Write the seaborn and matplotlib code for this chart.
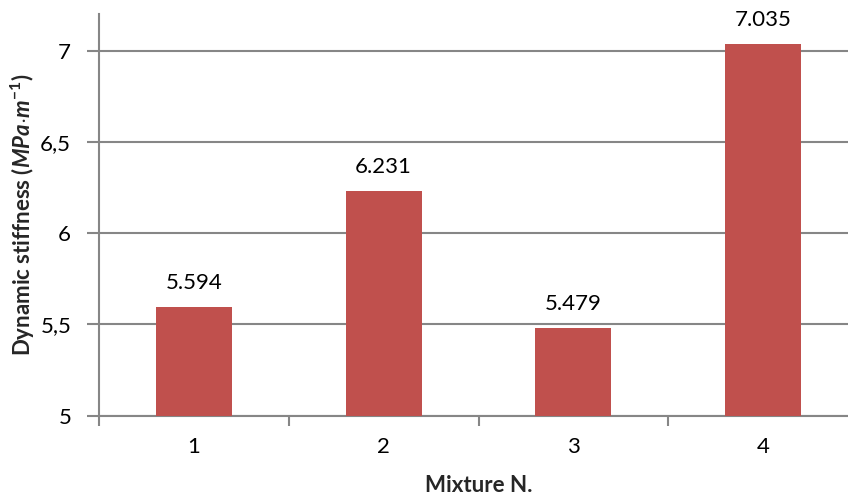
import matplotlib
matplotlib.use("Agg")
import matplotlib.pyplot as plt
import seaborn as sns
import pandas as pd

mixtures = ["1", "2", "3", "4"]
stiffness = [5.594, 6.231, 5.479, 7.035]
value_labels = ["5.594", "6.231", "5.479", "7.035"]
y_ticks = [5, 5.5, 6, 6.5, 7]
y_tick_labels = ["5", "5,5", "6", "6,5", "7"]

sns.set_theme(style="white")
plt.rcParams["font.family"] = ["Lato", "DejaVu Sans"]
plt.rcParams["mathtext.fontset"] = "custom"
plt.rcParams["mathtext.it"] = "Lato:italic:bold"
plt.rcParams["mathtext.rm"] = "Lato:bold"
plt.rcParams["mathtext.bf"] = "Lato:bold"

FS = 16

df = pd.DataFrame({"Mixture": mixtures, "Stiffness": stiffness})

fig = plt.figure(figsize=(8.48, 4.99), dpi=100)
ax = fig.add_axes([99 / 848, (499 - 415.7) / 499, 759 / 848, (415.7 - 14) / 499])

grid_col = "#868686"
bar_col = "#C0504D"

sns.barplot(data=df, x="Mixture", y="Stiffness", color=bar_col, width=0.4,
            saturation=1, ax=ax, zorder=3, edgecolor="none")

ax.set_ylim(5, 7.2)
ax.set_xlim(-0.5, 3.5)
ax.set_yticks(y_ticks)
ax.set_yticklabels(y_tick_labels, fontsize=FS, color="black")
ax.yaxis.grid(True, color=grid_col, linewidth=1.5, zorder=0)
ax.set_axisbelow(True)

ax.set_xticks(range(len(mixtures)))
ax.set_xticklabels(mixtures, fontsize=FS, color="black")
ax.tick_params(axis="x", which="major", length=0, pad=15)
ax.set_xticks([-0.5, 0.5, 1.5, 2.5, 3.5], minor=True)
ax.tick_params(axis="x", which="minor", length=7, width=1.5, color=grid_col, direction="out", bottom=True)
ax.tick_params(axis="y", length=9, width=1.5, color=grid_col, direction="out", left=True, pad=11)

for s in ["top", "right"]:
    ax.spines[s].set_visible(False)
for s in ["left", "bottom"]:
    ax.spines[s].set_color(grid_col)
    ax.spines[s].set_linewidth(1.5)

for i, (v, t) in enumerate(zip(stiffness, value_labels)):
    ax.annotate(t, (i, v), xytext=(0, 10), textcoords="offset points",
                ha="center", va="bottom", fontsize=FS, color="black")

ax.set_xlabel("Mixture N.", fontsize=FS, fontweight="bold", labelpad=13)
ax.set_ylabel(r"Dynamic stiffness ($MPa{\cdot}m^{-1}$)", fontsize=FS,
              fontweight="bold", labelpad=2)

fig.savefig("out.png", dpi=100)
